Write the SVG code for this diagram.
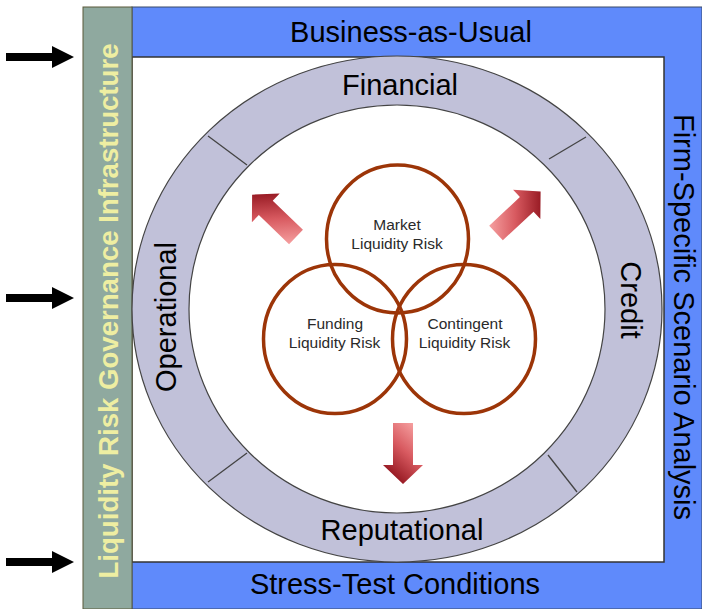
<svg xmlns="http://www.w3.org/2000/svg" width="702" height="609" viewBox="0 0 702 609">
<defs>
<style>
.big{font-family:"Liberation Sans",Arial,sans-serif;font-size:29px;fill:#000;text-anchor:middle}
.gov{font-family:"Liberation Sans",Arial,sans-serif;font-size:28px;font-weight:bold;fill:#eeeea2;text-anchor:middle}
.risk{font-family:"Liberation Sans",Arial,sans-serif;font-size:15.5px;fill:#2a2a2a;text-anchor:middle}
.venn{fill:none;stroke:#9c3508;stroke-width:3.5}
.sep{stroke:#444;stroke-width:1.3}
.red{fill:url(#redgrad)}
</style>
<linearGradient id="redgrad" x1="0" y1="0.2" x2="1" y2="0.8">
<stop offset="0" stop-color="#f7a3a3"/>
<stop offset="0.45" stop-color="#d85a60"/>
<stop offset="1" stop-color="#850812"/>
</linearGradient>
<polygon id="redarrow" points="0,-10 42,-10 42,-20 61,0 42,20 42,10 0,10"/>
<polygon id="blackarrow" points="6,-4 52,-4 52,-11 74,0 52,11 52,4 6,4"/>
</defs>

<g id="frame">
<rect x="132" y="7" width="570" height="602" fill="#5f8afb" stroke="#3a4a6a" stroke-width="1"/>
<rect x="132" y="57" width="532" height="505" fill="#fff" stroke="#333" stroke-width="1.5"/>
</g>

<g id="governance">
<rect x="83" y="7" width="49" height="602" fill="#8fa99f" stroke="#5a5a3a" stroke-width="1"/>
<text class="gov" transform="translate(118,311) rotate(-90)" textLength="535" lengthAdjust="spacingAndGlyphs">Liquidity Risk Governance Infrastructure</text>
</g>

<g id="business-as-usual">
<text class="big" x="411" y="42">Business-as-Usual</text>
</g>
<g id="stress-test">
<text class="big" x="395" y="594">Stress-Test Conditions</text>
</g>
<g id="firm-specific">
<text class="big" transform="translate(674,317) rotate(90)">Firm-Specific Scenario Analysis</text>
</g>

<g id="ring">
<path d="M132,309 a265,253 0 1,0 530,0 a265,253 0 1,0 -530,0 Z M189,309 a208,204 0 1,0 416,0 a208,204 0 1,0 -416,0 Z" fill="#c1c1d9" fill-rule="evenodd" stroke="#444" stroke-width="1.2"/>
<line class="sep" x1="208" y1="136" x2="247" y2="165"/>
<line class="sep" x1="586" y1="137" x2="549" y2="159"/>
<line class="sep" x1="208" y1="482" x2="247" y2="453"/>
<line class="sep" x1="577" y1="492" x2="548" y2="455"/>
</g>
<g id="financial"><text class="big" x="400" y="95">Financial</text></g>
<g id="reputational"><text class="big" x="402" y="540">Reputational</text></g>
<g id="operational"><text class="big" transform="translate(176,317) rotate(-90)">Operational</text></g>
<g id="credit"><text class="big" transform="translate(621,300) rotate(90)">Credit</text></g>

<g id="market-liquidity-risk">
<ellipse class="venn" cx="397.5" cy="239" rx="71" ry="74"/>
<text class="risk" x="397" y="230">Market</text>
<text class="risk" x="397" y="249">Liquidity Risk</text>
</g>
<g id="funding-liquidity-risk">
<ellipse class="venn" cx="335" cy="339" rx="71.5" ry="74.5"/>
<text class="risk" x="335" y="329">Funding</text>
<text class="risk" x="334.5" y="348">Liquidity Risk</text>
</g>
<g id="contingent-liquidity-risk">
<ellipse class="venn" cx="464" cy="339" rx="71.5" ry="74.5"/>
<text class="risk" x="465" y="329">Contingent</text>
<text class="risk" x="464.5" y="348">Liquidity Risk</text>
</g>

<g id="connectors">
<use href="#blackarrow" transform="translate(0,57)" fill="#000"/>
<use href="#blackarrow" transform="translate(0,298)" fill="#000"/>
<use href="#blackarrow" transform="translate(0,562)" fill="#000"/>
<use href="#redarrow" class="red" transform="translate(296,237) rotate(-136)"/>
<use href="#redarrow" class="red" transform="translate(496,233) rotate(-43)"/>
<use href="#redarrow" class="red" transform="translate(403,423) rotate(90)"/>
</g>
</svg>
